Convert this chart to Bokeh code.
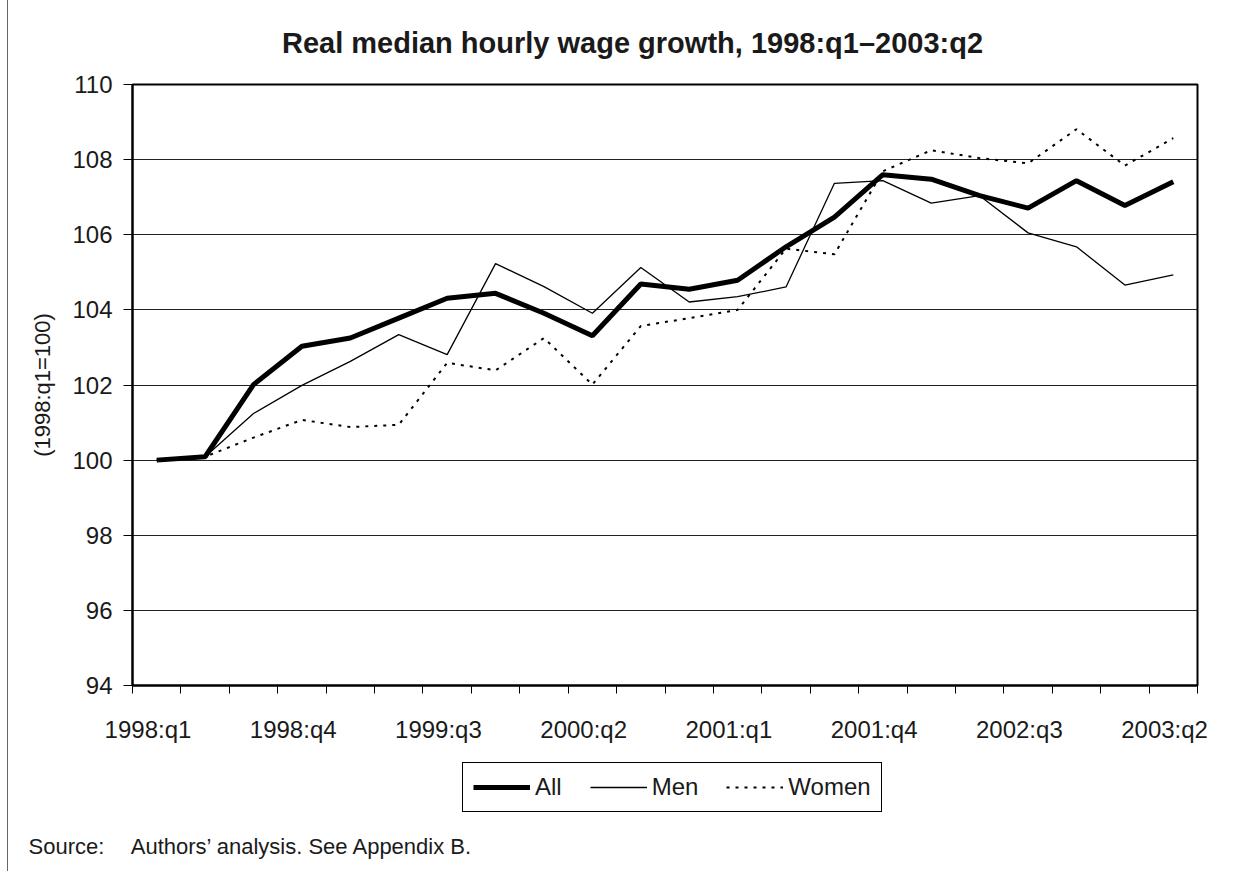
from bokeh.plotting import figure
from bokeh.layouts import column
from bokeh.models import (Range1d, LinearAxis, FixedTicker, SingleIntervalTicker, Label, Title,
                          Legend, LegendItem, ColumnDataSource, Grid)
from bokeh.embed import file_html
from bokeh.resources import INLINE

quarters = ["1998:q1", "1998:q2", "1998:q3", "1998:q4",
            "1999:q1", "1999:q2", "1999:q3", "1999:q4",
            "2000:q1", "2000:q2", "2000:q3", "2000:q4",
            "2001:q1", "2001:q2", "2001:q3", "2001:q4",
            "2002:q1", "2002:q2", "2002:q3", "2002:q4",
            "2003:q1", "2003:q2"]
all_vals = [100.0, 100.09, 102.01, 103.03, 103.25, 103.78, 104.31, 104.44, 103.91, 103.31, 104.69,
            104.55, 104.79, 105.68, 106.47, 107.60, 107.48, 107.04, 106.71, 107.44, 106.78, 107.41]
men_vals = [100.0, 100.09, 101.24, 101.99, 102.63, 103.34, 102.81, 105.23, 104.62, 103.91, 105.13,
            104.21, 104.35, 104.61, 107.37, 107.44, 106.84, 107.04, 106.05, 105.68, 104.66, 104.93]
women_vals = [100.0, 100.09, 100.60, 101.07, 100.88, 100.94, 102.59, 102.39, 103.25, 102.01, 103.57,
              103.78, 104.00, 105.63, 105.48, 107.69, 108.25, 108.04, 107.90, 108.81, 107.84, 108.57]
series_cols = ["all", "men", "women"]
series_names = ["All", "Men", "Women"]
label_every = 3
y_min, y_max, y_step = 94, 110, 2

FONT = "Liberation Sans"
TXT = "#1a1a1a"
FRAME_STYLE = {"margin-left": "7px", "border-left": "1px solid #666666"}
W = 1236
H_TITLE = 60
H_MAIN = 685
H_BOT = 871 - H_TITLE - H_MAIN
FRAME_L, FRAME_R = 132, 1197


def strip(height, xr, yr, **borders):
    f = figure(width=W, height=height, output_backend="svg", toolbar_location=None,
               x_range=xr, y_range=yr, x_axis_type=None, y_axis_type=None,
               min_border_left=0, min_border_right=0, min_border_top=0, min_border_bottom=0)
    for k, v in borders.items():
        setattr(f, k, v)
    f.styles = FRAME_STYLE
    f.outline_line_color = None
    f.background_fill_color = "white"
    f.border_fill_color = "white"
    f.title.visible = False
    return f


idx = list(range(len(quarters)))
src = ColumnDataSource(dict(x=idx, q=quarters, all=all_vals, men=men_vals, women=women_vals))

# ---- title strip
t = strip(H_TITLE, Range1d(FRAME_L, FRAME_R), Range1d(H_TITLE, 0))
t.add_layout(Label(x=632, y=42, text="Real median hourly wage growth, 1998:q1\u20132003:q2",
                   text_align="center", text_baseline="alphabetic", text_font=FONT,
                   text_font_style="bold", text_font_size="29px", text_color=TXT))

# ---- main chart
p = figure(width=W, height=H_MAIN, output_backend="svg", toolbar_location=None,
           x_range=Range1d(-0.5, len(quarters) - 0.5), y_range=Range1d(y_min, y_max),
           x_axis_type=None, y_axis_type=None,
           min_border_left=124, min_border_right=47, min_border_top=84 - H_TITLE,
           min_border_bottom=H_TITLE + H_MAIN - 687)
p.styles = FRAME_STYLE
p.title.visible = False
p.outline_line_color = "black"
p.outline_line_width = 2
p.background_fill_color = "white"
p.border_fill_color = "white"

shift = -0.18
label_pos = [i + shift for i in idx[::label_every]]
overrides = {pos: quarters[i] for pos, i in zip(label_pos, idx[::label_every])}
bounds = [i - 0.5 for i in idx] + [idx[-1] + 0.5]
xaxis = LinearAxis(ticker=FixedTicker(ticks=label_pos, minor_ticks=bounds),
                   major_label_overrides=overrides)
xaxis.major_tick_out = 0
xaxis.major_tick_in = 0
xaxis.minor_tick_out = 8
xaxis.minor_tick_in = 0
xaxis.minor_tick_line_color = "black"
xaxis.minor_tick_line_width = 1
xaxis.axis_line_color = "black"
xaxis.axis_line_width = 2
xaxis.major_label_standoff = 22
xaxis.major_label_text_font = FONT
xaxis.major_label_text_font_size = "24px"
xaxis.major_label_text_color = TXT
p.add_layout(xaxis, "below")

yticker = SingleIntervalTicker(interval=y_step, num_minor_ticks=0)
yaxis = LinearAxis(ticker=yticker)
yaxis.major_tick_out = 9
yaxis.major_tick_in = 0
yaxis.major_tick_line_color = "black"
yaxis.major_tick_line_width = 1
yaxis.minor_tick_out = 0
yaxis.minor_tick_in = 0
yaxis.axis_line_color = "black"
yaxis.axis_line_width = 2
yaxis.major_label_standoff = 11
yaxis.major_label_text_font = FONT
yaxis.major_label_text_font_size = "24px"
yaxis.major_label_text_color = TXT
yaxis.axis_label = "(1998:q1=100)"
yaxis.axis_label_text_font = FONT
yaxis.axis_label_text_font_size = "22px"
yaxis.axis_label_text_font_style = "normal"
yaxis.axis_label_text_color = TXT
yaxis.axis_label_standoff = 14
p.add_layout(yaxis, "left")

p.add_layout(Grid(dimension=1, ticker=yticker, grid_line_color="#222222", grid_line_width=1))

styles = [dict(line_color="black", line_width=5),
          dict(line_color="black", line_width=1.3),
          dict(line_color="black", line_width=2, line_dash="3 6")]
for col, st in zip(series_cols, styles):
    p.line("x", col, source=src, **st)

# ---- bottom strip: legend + source note
q = strip(H_BOT, Range1d(0, 1), Range1d(0, 1), min_border_bottom=52)
items = []
for name, col, st in zip(series_names, series_cols, styles):
    r = q.line("x", col, source=src, **st)   # same series, outside this strip's view
    items.append(LegendItem(label=name, renderers=[r]))

legend = Legend(items=items, orientation="horizontal", location=(462 - FRAME_L, 7),
                border_line_color="black", border_line_width=1, border_line_alpha=1,
                background_fill_color="white", background_fill_alpha=1,
                label_text_font=FONT, label_text_font_size="24px", label_text_color=TXT,
                glyph_width=57, glyph_height=28, label_height=28, label_standoff=5,
                spacing=28, padding=10, margin=0)
q.add_layout(legend)

source_note = Title(text="Source:\u2003\u2009Authors\u2019 analysis. See Appendix B.",
                    align="left", offset=28 - FRAME_L, text_font=FONT, text_font_style="normal",
                    text_font_size="22px", text_color=TXT, standoff=24)
q.add_layout(source_note, "below")

layout = column(t, p, q, spacing=0)
open("out.html", "w").write(file_html(layout, INLINE))
